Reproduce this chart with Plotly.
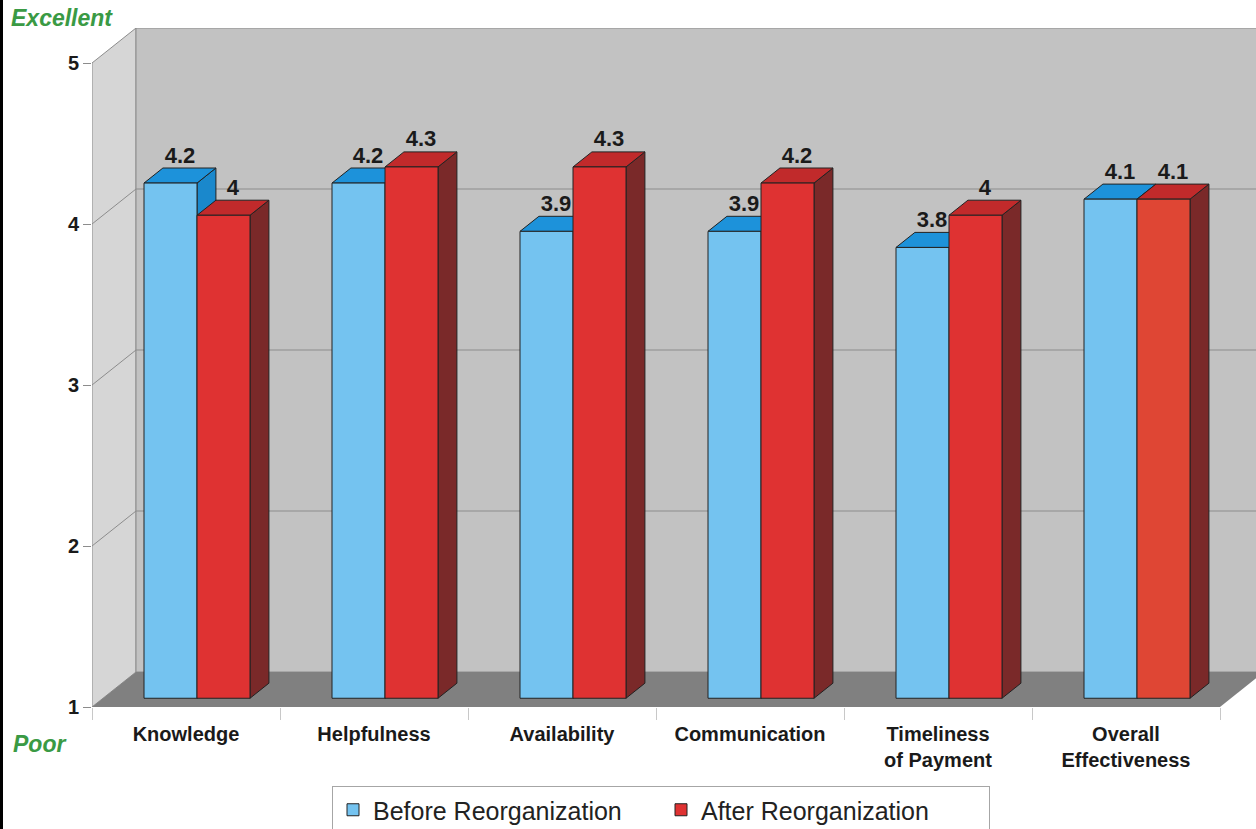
import plotly.graph_objects as go

# ---- data -------------------------------------------------------------
categories = ["Knowledge", "Helpfulness", "Availability", "Communication",
              "Timeliness<br>of Payment", "Overall<br>Effectiveness"]
before = [4.2, 4.2, 3.9, 3.9, 3.8, 4.1]
after = [4.0, 4.3, 4.3, 4.2, 4.0, 4.1]
y_ticks = [1, 2, 3, 4, 5]

# ---- page geometry ------------------------------------------------------
W, H = 1256, 829
ML, MT, MB = 92, 28, 122
PX_PER_X = 188.0          # pixels per category step
PX_PER_Y = 161.0          # pixels per rating point
plot_w = W - ML
plot_h = H - MT - MB
x_min = -0.5
x_max = x_min + plot_w / PX_PER_X
y_min = 1.0
y_max = y_min + plot_h / PX_PER_Y

# oblique depth of the box (front plane -> back wall), in axis units
DEPTH_X = 44 / PX_PER_X
DEPTH_Y = 35 / PX_PER_Y
BAR_W = 53 / PX_PER_X
BAR_Z0 = 0.25              # front plane of the bars, as fraction of box depth
BAR_DZ = 0.43              # thickness of a bar, as fraction of box depth
sx0, sy0 = DEPTH_X * BAR_Z0, DEPTH_Y * BAR_Z0
bx, by = DEPTH_X * BAR_DZ, DEPTH_Y * BAR_DZ
bar_base = y_min + sy0

# ---- colours ------------------------------------------------------------
BACK_WALL = "#c2c2c2"
SIDE_WALL = "#d6d6d6"
FLOOR = "#808080"
EDGE = "#8c8c8c"
OUTLINE = "#222222"
BLUE_FRONT, BLUE_TOP, BLUE_SIDE = "#74c3f0", "#1d92da", "#1a88cc"
RED_TOP, RED_SIDE = "#c12a2b", "#7a2929"
red_fronts = ["#df3232", "#df3232", "#df3232", "#df3232", "#df3232", "#df4634"]
GREEN = "#3a9a44"
FONT = "Liberation Sans, Arial, sans-serif"


def paper_x(px):
    return (px - ML) / plot_w


def paper_y(py):
    return (H - MB - py) / plot_h


def poly(points, fill, line_color=None, width=1):
    path = "M " + " L ".join(f"{x},{y}" for x, y in points) + " Z"
    return dict(type="path", path=path, xref="x", yref="y", layer="below",
                fillcolor=fill,
                line=dict(color=line_color or fill, width=width if line_color else 0))


def seg(x0, y0, x1, y1, color=EDGE, width=1):
    return dict(type="line", x0=x0, y0=y0, x1=x1, y1=y1, xref="x", yref="y",
                layer="below", line=dict(color=color, width=width))


shapes = []
# side wall, back wall, grid lines
shapes.append(poly([(x_min, y_min), (x_min, 5), (x_min + DEPTH_X, 5 + DEPTH_Y),
                    (x_min + DEPTH_X, y_min + DEPTH_Y)], SIDE_WALL, EDGE))
shapes.append(poly([(x_min + DEPTH_X, y_min + DEPTH_Y), (x_min + DEPTH_X, 5 + DEPTH_Y),
                    (x_max + 1, 5 + DEPTH_Y), (x_max + 1, y_min + DEPTH_Y)], BACK_WALL, EDGE))
for v in y_ticks[1:-1]:
    shapes.append(seg(x_min, v, x_min + DEPTH_X, v + DEPTH_Y))
    shapes.append(seg(x_min + DEPTH_X, v + DEPTH_Y, x_max + 1, v + DEPTH_Y))
# floor
n = len(categories)
x_end = x_min + n
shapes.append(poly([(x_min, y_min), (x_end, y_min), (x_end + DEPTH_X, y_min + DEPTH_Y),
                    (x_min + DEPTH_X, y_min + DEPTH_Y)], FLOOR))

# top and side faces of each bar
for i in range(n):
    for val, left, top_c, side_c in ((before[i], i + sx0 - BAR_W, BLUE_TOP, BLUE_SIDE),
                                     (after[i], i + sx0, RED_TOP, RED_SIDE)):
        right = left + BAR_W
        yt = val + sy0
        shapes.append(poly([(right, bar_base), (right, yt), (right + bx, yt + by),
                            (right + bx, bar_base + by)], side_c, OUTLINE))
        shapes.append(poly([(left, yt), (right, yt), (right + bx, yt + by),
                            (left + bx, yt + by)], top_c, OUTLINE))

# black frame line on the left edge of the page
shapes.append(dict(type="line", xref="paper", yref="paper",
                   x0=paper_x(1.5), x1=paper_x(1.5), y0=paper_y(H), y1=paper_y(0),
                   line=dict(color="#000000", width=3)))

fig = go.Figure()
xs = [i + sx0 for i in range(n)]
fig.add_trace(go.Bar(
    name="Before Reorganization", x=xs, y=[v - y_min for v in before], base=bar_base,
    width=BAR_W, offset=-BAR_W, marker=dict(color=BLUE_FRONT, line=dict(color=OUTLINE, width=1)),
    hoverinfo="skip"))
fig.add_trace(go.Bar(
    name="After Reorganization", x=xs, y=[v - y_min for v in after], base=bar_base,
    width=BAR_W, offset=0, marker=dict(color=red_fronts, line=dict(color=OUTLINE, width=1)),
    hoverinfo="skip"))

# value labels centred over each top face
lab_x, lab_y, lab_t = [], [], []
for i in range(n):
    for val, centre in ((before[i], i + sx0 - BAR_W / 2), (after[i], i + sx0 + BAR_W / 2)):
        lab_x.append(centre + bx / 2)
        lab_y.append(val + sy0 + by)
        lab_t.append(f"{val:g}")
fig.add_trace(go.Scatter(
    x=lab_x, y=lab_y, text=lab_t, mode="text", textposition="top center",
    textfont=dict(family=FONT, size=22, color="#1a1a1a", weight="bold"),
    cliponaxis=False, showlegend=False, hoverinfo="skip"))

fig.update_layout(
    width=W, height=H,
    margin=dict(l=ML, r=0, t=MT, b=MB, autoexpand=False),
    paper_bgcolor="white", plot_bgcolor="white",
    barmode="overlay",
    shapes=shapes,
    showlegend=True,
    legend=dict(orientation="h", x=paper_x(332), xanchor="left",
                y=paper_y(786), yanchor="top", bgcolor="white",
                bordercolor="#a6a6a6", borderwidth=1,
                entrywidth=283, entrywidthmode="pixels",
                font=dict(family=FONT, size=25, color="#222222")),
    xaxis=dict(range=[x_min, x_max], tickvals=list(range(n)), ticktext=categories,
               showgrid=False, zeroline=False, showline=False, ticks="",
               ticklabelstandoff=13,
               tickfont=dict(family=FONT, size=20, color="#1a1a1a", weight="bold"),
               minor=dict(tickvals=[x_min + k for k in range(n + 1)], ticks="outside",
                          ticklen=12, tickcolor="#c8c8c8", showgrid=False)),
    yaxis=dict(range=[y_min, y_max], tickvals=y_ticks,
               showgrid=False, zeroline=False, showline=False,
               ticks="outside", ticklen=8, tickcolor=EDGE,
               tickfont=dict(family=FONT, size=20, color="#1a1a1a", weight="bold")),
    annotations=[
        dict(text="Excellent", xref="paper", yref="paper", x=paper_x(9), y=paper_y(18),
             xanchor="left", yanchor="middle", showarrow=False,
             font=dict(family=FONT, size=23, color=GREEN, weight="bold", style="italic")),
        dict(text="Poor", xref="paper", yref="paper", x=paper_x(11), y=paper_y(744),
             xanchor="left", yanchor="middle", showarrow=False,
             font=dict(family=FONT, size=23, color=GREEN, weight="bold", style="italic")),
    ],
)

fig.write_html("out.html")
